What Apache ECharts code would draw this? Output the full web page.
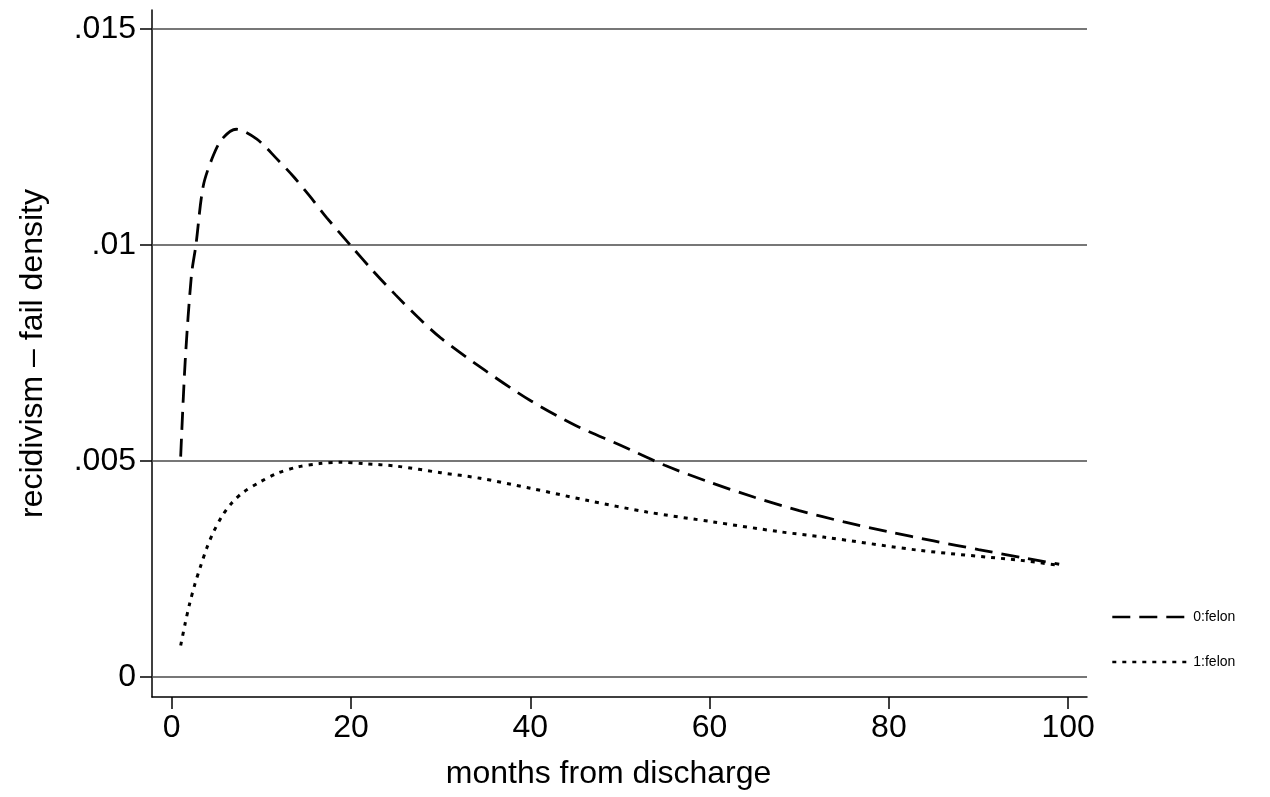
<!DOCTYPE html>
<html>
<head>
<meta charset="utf-8">
<script src="https://cdn.jsdelivr.net/npm/echarts@6/dist/echarts.min.js"></script>
<style>
  html, body { margin: 0; padding: 0; background: #fff; }
  #chart { width: 1270px; height: 797px; }
</style>
</head>
<body>
<div id="chart"></div>
<script>
// values
const months0 = [1, 1.5, 2.2, 2.7, 3.5, 4.5, 5.6, 7.2, 9.5, 11.7, 13.6, 15.4, 17.3, 20, 22.5, 25, 27.5, 30, 35, 40, 45, 50, 55, 60, 65, 70, 75, 80, 85, 90, 95, 99];
const dens0 = [.0051, .0073, .0093, .0100, .01135, .0120, .01245, .01268, .01245, .0120, .01158, .01113, .01063, .00998, .00939, .00884, .00832, .00785, .00709, .0064, .00583, .00537, .0049, .00451, .00416, .00385, .00359, .00336, .00315, .00295, .00276, .00261];

const months1 = [1, 1.5, 2, 2.6, 3.2, 3.9, 4.6, 5.6, 6.7, 8, 9.9, 11.7, 14, 16.5, 18.8, 21.4, 25.1, 30, 34.4, 40, 46.3, 53, 60.4, 67.9, 72.7, 83.5, 94.7, 98.8];
const dens1 = [.00073, .00124, .0017, .00216, .00255, .00298, .00333, .00372, .00403, .00428, .00452, .00471, .00486, .00494, .00497, .00494, .00488, .00473, .0046, .00437, .00409, .00382, .00359, .00336, .00324, .00293, .0027, .00259];

const xTicks = [0, 20, 40, 60, 80, 100];
const yTicks = [0, .005, .01, .015];
const seriesNames = ['0:felon', '1:felon'];

const X_MIN = -2.2, X_MAX = 102.1;
const Y_MIN = -0.000463, Y_MAX = 0.01544;

const FONT = "'Liberation Sans', Arial, Helvetica, sans-serif";

function zip(xs, ys) {
  return xs.map((x, i) => [x, ys[i]]);
}

function yLabel(v) {
  if (Math.abs(v) < 1e-12) return '0';
  return String(+v.toFixed(3)).replace(/^0/, '');
}

// horizontal reference lines at the y ticks, spanning the full x range
const gridSeries = yTicks.map(v => ({
  type: 'line',
  name: 'grid' + v,
  data: [[X_MIN, v], [X_MAX, v]],
  symbol: 'none',
  silent: true,
  lineStyle: { color: '#4a4a4a', width: 1.3, type: 'solid' },
  z: 1
}));

const chart = echarts.init(document.getElementById('chart'), null, { renderer: 'canvas' });

chart.setOption({
  animation: false,
  backgroundColor: '#fff',
  textStyle: { fontFamily: FONT, color: '#000' },
  grid: {
    left: 152, right: 183, top: 10, bottom: 100,
    containLabel: false,
    outerBoundsMode: 'none'
  },
  legend: {
    orient: 'vertical',
    left: 1106,
    top: 605,
    itemWidth: 76,
    itemHeight: 14,
    itemGap: 31,
    itemStyle: { opacity: 0 },
    lineStyle: { width: 2.6 },
    textStyle: { fontFamily: FONT, fontSize: 14, color: '#000' },
    data: seriesNames
  },
  xAxis: {
    type: 'value',
    min: X_MIN,
    max: X_MAX,
    name: 'months from discharge',
    nameLocation: 'middle',
    nameGap: 61,
    nameTextStyle: { fontFamily: FONT, fontSize: 32, color: '#000', padding: [0, 22, 0, 0] },
    axisLine: { show: true, onZero: false, lineStyle: { color: '#000', width: 1.5 } },
    axisTick: { show: true, length: 12, customValues: xTicks, lineStyle: { color: '#000', width: 1.5 } },
    axisLabel: { show: true, customValues: xTicks, margin: 15, fontSize: 32, color: '#000', fontFamily: FONT },
    splitLine: { show: false }
  },
  yAxis: {
    type: 'value',
    min: Y_MIN,
    max: Y_MAX,
    name: 'recidivism \u2013 fail density',
    nameLocation: 'middle',
    nameGap: 103,
    nameTextStyle: { fontFamily: FONT, fontSize: 32, color: '#000' },
    axisLine: { show: true, onZero: false, lineStyle: { color: '#000', width: 1.5 } },
    axisTick: { show: true, length: 12, customValues: yTicks, lineStyle: { color: '#000', width: 1.5 } },
    axisLabel: { show: true, customValues: yTicks, margin: 16, fontSize: 32, color: '#000', fontFamily: FONT, formatter: yLabel },
    splitLine: { show: false }
  },
  series: gridSeries.concat([
    {
      name: seriesNames[0],
      type: 'line',
      data: zip(months0, dens0),
      symbol: 'none',
      smooth: 0.3,
      lineStyle: { color: '#000', width: 2.8, type: [18, 9] },
      itemStyle: { color: '#000' },
      z: 3
    },
    {
      name: seriesNames[1],
      type: 'line',
      data: zip(months1, dens1),
      symbol: 'none',
      smooth: 0.3,
      lineStyle: { color: '#000', width: 3, type: [4, 6] },
      itemStyle: { color: '#000' },
      z: 3
    }
  ])
});
</script>
</body>
</html>
